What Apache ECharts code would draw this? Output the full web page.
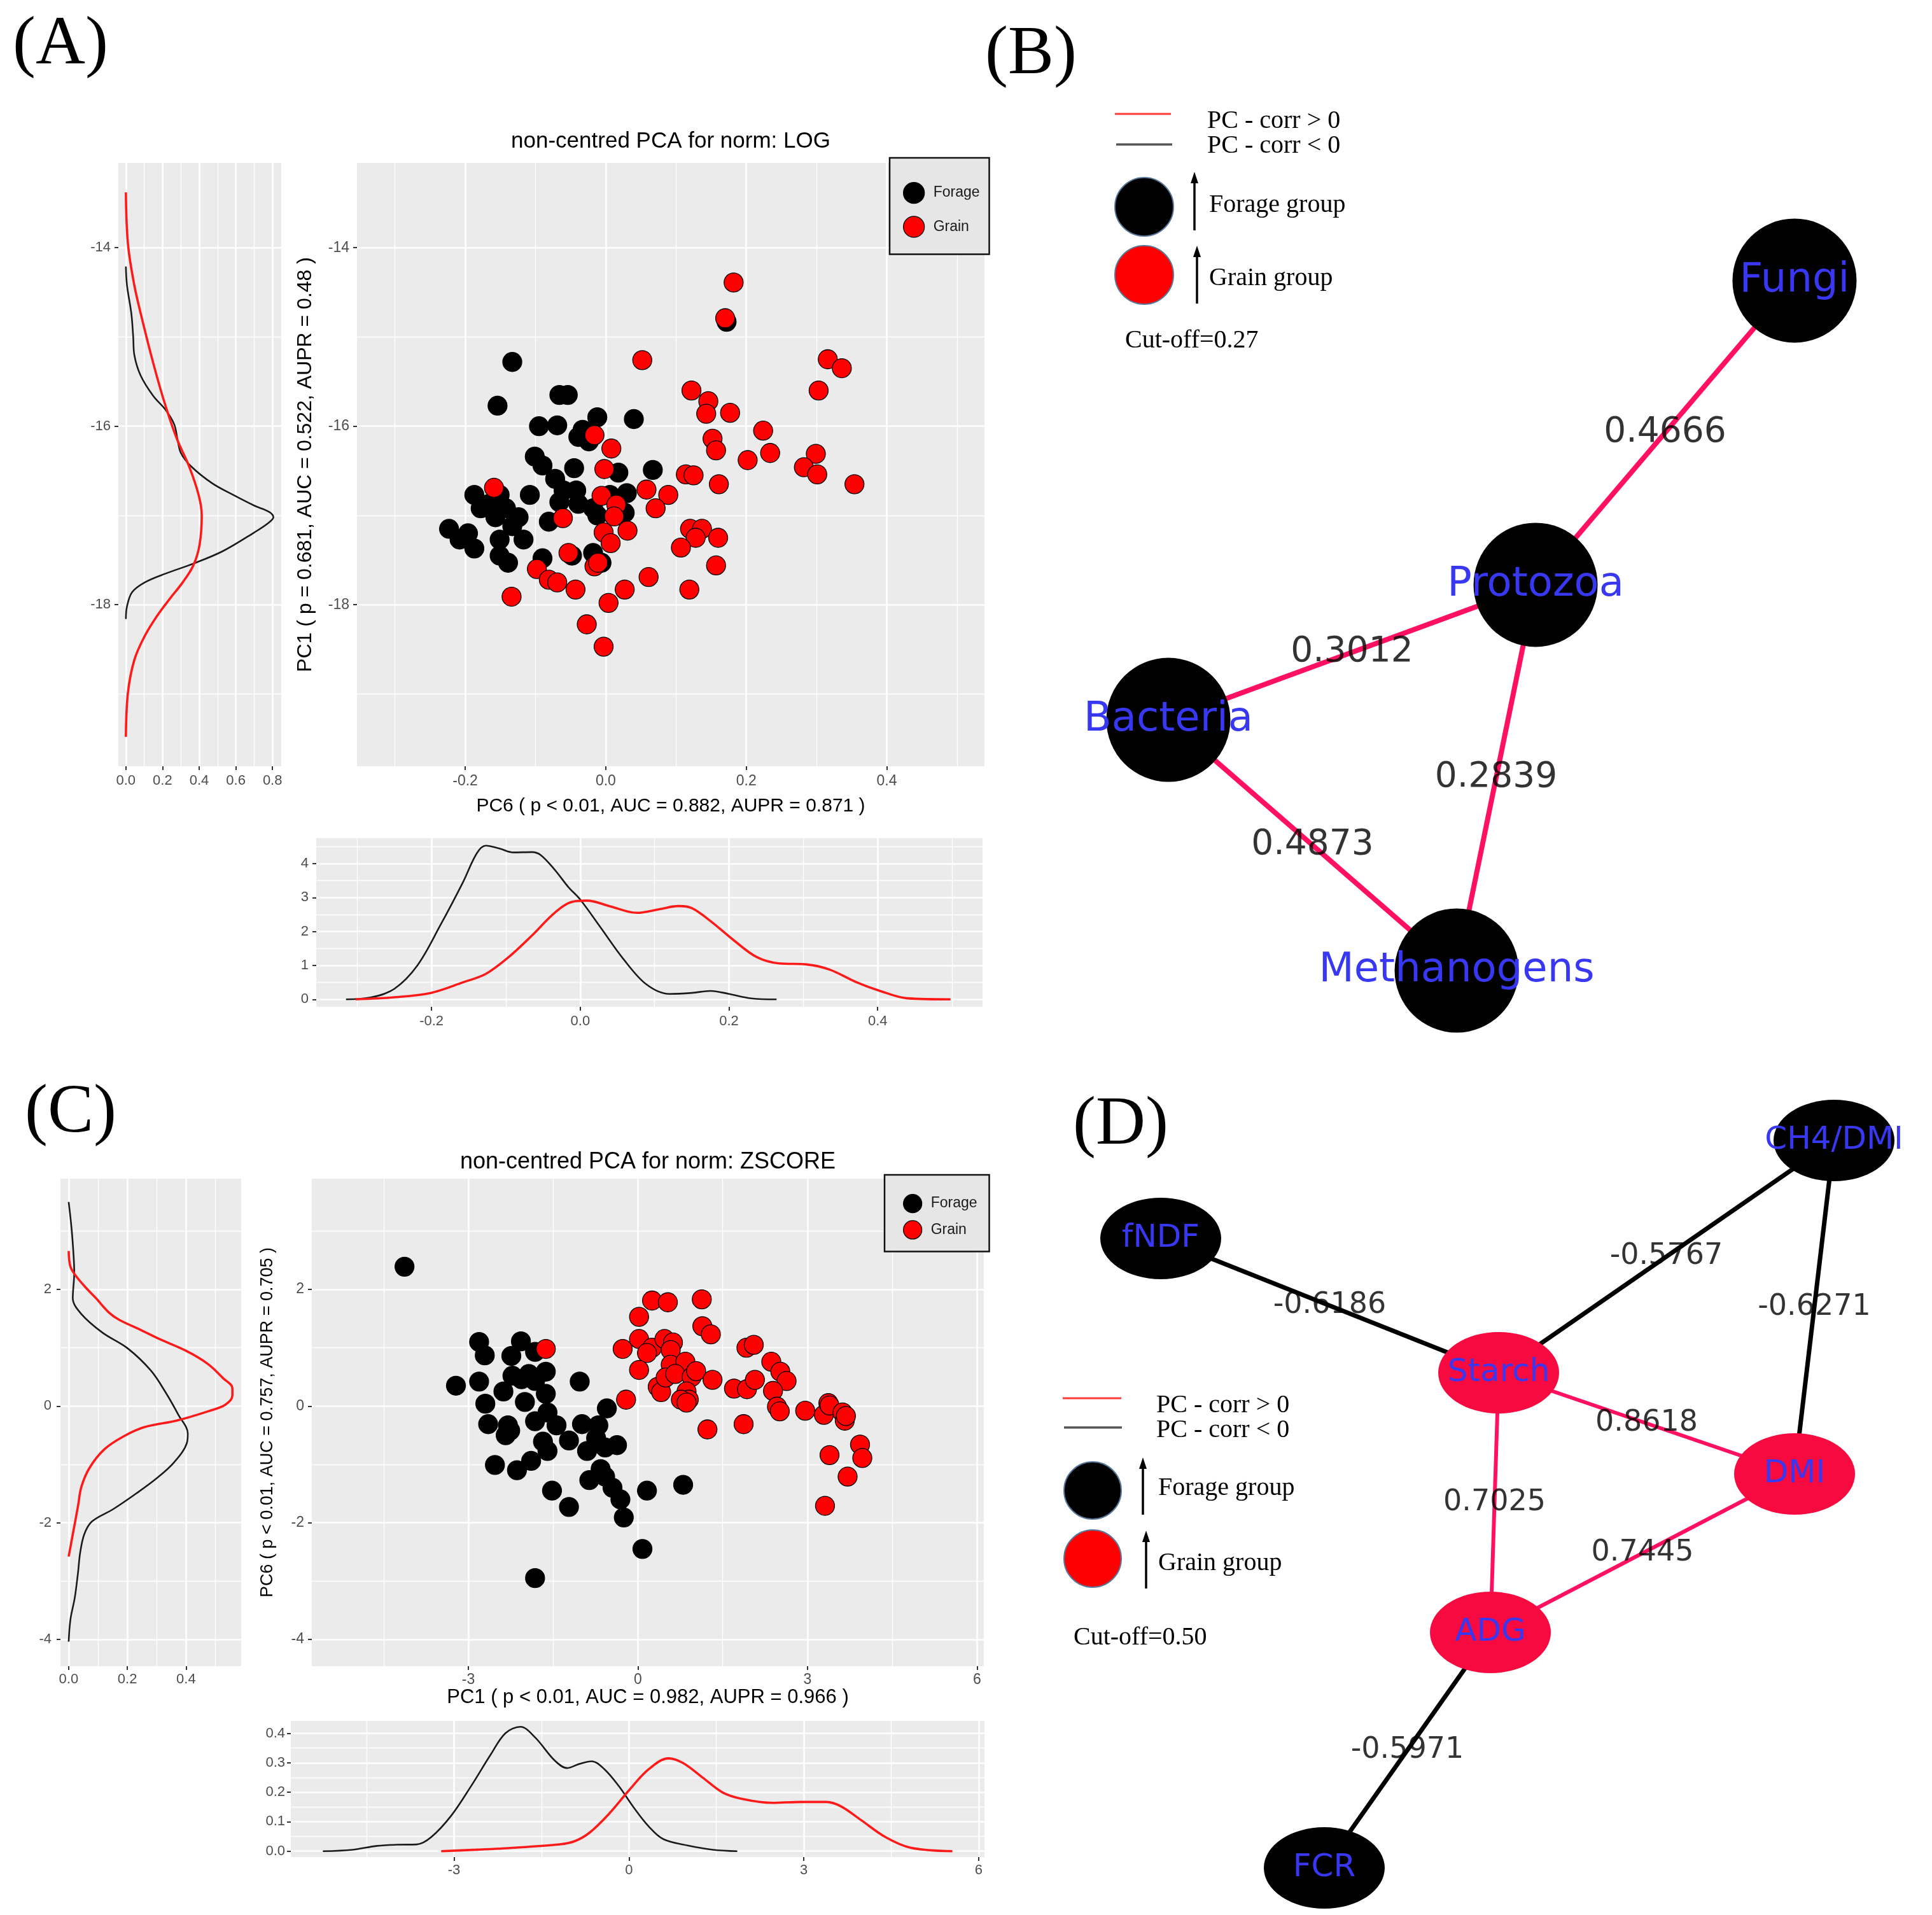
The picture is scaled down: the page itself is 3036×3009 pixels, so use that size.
<!DOCTYPE html>
<html><head><meta charset="utf-8">
<script src="https://cdn.jsdelivr.net/npm/echarts@6/dist/echarts.min.js"></script>
<style>html,body{margin:0;padding:0;background:#fff}#c{width:3036px;height:3009px}</style>
</head><body><div id="c"></div>
<script>
// ---------------- DATA ----------------
const groups = ['Forage', 'Grain'];

// Panel A: non-centred PCA (LOG) — [PC6, PC1]
const logForagePts = [[-0.133,-15.28],[-0.154,-15.77],[-0.066,-15.65],[-0.054,-15.65],[-0.012,-15.90],[0.040,-15.92],[-0.095,-16.00],[-0.069,-15.99],[-0.033,-16.04],[-0.039,-16.12],[-0.024,-16.17],[-0.101,-16.34],[-0.090,-16.44],[-0.072,-16.59],[-0.045,-16.47],[0.018,-16.52],[0.067,-16.49],[-0.187,-16.77],[-0.178,-16.92],[-0.151,-16.77],[-0.142,-16.92],[-0.108,-16.77],[-0.157,-17.02],[-0.124,-17.02],[-0.223,-17.15],[-0.208,-17.27],[-0.196,-17.20],[-0.187,-17.37],[-0.151,-17.27],[-0.117,-17.27],[-0.151,-17.45],[-0.139,-17.53],[-0.081,-17.07],[-0.066,-16.85],[-0.042,-16.72],[-0.039,-16.87],[-0.012,-17.00],[0.030,-16.75],[0.027,-16.97],[-0.090,-17.48],[-0.048,-17.45],[-0.018,-17.42],[-0.006,-17.53],[0.172,-14.83],[-0.018,-16.92],[-0.166,-16.87],[-0.133,-17.12],[-0.060,-16.72],[0.006,-16.77]];
const logGrainPts = [[0.182,-14.39],[0.170,-14.79],[0.052,-15.26],[0.316,-15.25],[0.336,-15.35],[0.303,-15.60],[0.122,-15.60],[0.146,-15.72],[0.143,-15.86],[0.177,-15.85],[0.224,-16.05],[-0.016,-16.10],[0.008,-16.25],[0.152,-16.14],[0.157,-16.27],[0.202,-16.38],[0.234,-16.30],[0.299,-16.31],[0.282,-16.46],[0.301,-16.54],[0.354,-16.65],[-0.002,-16.48],[0.114,-16.54],[0.125,-16.55],[0.161,-16.65],[-0.159,-16.69],[0.058,-16.71],[0.089,-16.77],[-0.006,-16.78],[0.015,-16.88],[0.071,-16.92],[-0.061,-17.03],[0.012,-17.01],[-0.003,-17.19],[0.031,-17.17],[0.007,-17.31],[0.120,-17.15],[0.137,-17.15],[0.128,-17.25],[0.160,-17.25],[0.107,-17.36],[-0.053,-17.42],[-0.098,-17.60],[-0.081,-17.72],[-0.069,-17.75],[-0.016,-17.57],[-0.011,-17.53],[0.157,-17.56],[0.061,-17.69],[-0.043,-17.83],[0.027,-17.83],[0.119,-17.83],[-0.134,-17.91],[0.004,-17.98],[-0.027,-18.22],[-0.003,-18.47]];
// density of PC1 (left marginal) — [density, PC1]
const logPC1DensForage = [[0,-14.21],[0.006,-14.42],[0.03,-14.74],[0.04,-15.0],[0.046,-15.2],[0.08,-15.43],[0.149,-15.66],[0.218,-15.82],[0.264,-15.98],[0.282,-16.15],[0.3,-16.3],[0.356,-16.45],[0.471,-16.64],[0.586,-16.77],[0.701,-16.89],[0.782,-16.96],[0.805,-17.02],[0.78,-17.08],[0.701,-17.19],[0.529,-17.40],[0.368,-17.54],[0.218,-17.65],[0.103,-17.75],[0.034,-17.86],[0.006,-18.02],[0,-18.16]];
const logPC1DensGrain = [[0,-13.38],[0.011,-13.95],[0.046,-14.42],[0.092,-14.83],[0.149,-15.29],[0.207,-15.71],[0.276,-16.13],[0.345,-16.45],[0.397,-16.77],[0.414,-17.0],[0.402,-17.33],[0.368,-17.56],[0.31,-17.75],[0.241,-17.93],[0.172,-18.12],[0.103,-18.35],[0.046,-18.62],[0.011,-18.99],[0,-19.48]];
// density of PC6 (bottom marginal) — [PC6, density]
const logPC6DensForage = [[-0.315,0],[-0.281,0.06],[-0.25,0.31],[-0.219,1.0],[-0.188,2.19],[-0.158,3.44],[-0.139,4.31],[-0.127,4.53],[-0.108,4.44],[-0.09,4.33],[-0.065,4.34],[-0.053,4.25],[-0.034,3.81],[-0.016,3.31],[0,2.94],[0.027,2.13],[0.058,1.19],[0.089,0.44],[0.12,0.16],[0.15,0.19],[0.175,0.25],[0.2,0.16],[0.23,0.03],[0.264,0]];
const logPC6DensGrain = [[-0.302,0],[-0.25,0.06],[-0.201,0.19],[-0.158,0.5],[-0.127,0.75],[-0.096,1.25],[-0.065,1.88],[-0.034,2.56],[-0.01,2.88],[0.009,2.91],[0.039,2.75],[0.076,2.55],[0.107,2.66],[0.132,2.75],[0.15,2.69],[0.175,2.31],[0.206,1.75],[0.237,1.25],[0.267,1.06],[0.304,1.03],[0.335,0.88],[0.372,0.5],[0.403,0.25],[0.44,0.03],[0.498,0]];

// Panel C: non-centred PCA (ZSCORE) — [PC1, PC6]
const zForagePts = [[-4.13,2.39],[-2.81,1.10],[-2.71,0.87],[-2.07,1.11],[-1.82,0.93],[-2.24,0.86],[-3.22,0.35],[-2.81,0.42],[-2.38,0.25],[-2.22,0.52],[-2.06,0.46],[-1.93,0.55],[-1.82,0.43],[-1.63,0.59],[-1.63,0.21],[-2.00,0.07],[-2.70,0.04],[-1.03,0.42],[-0.55,-0.04],[-2.65,-0.31],[-2.30,-0.33],[-2.26,-0.42],[-2.34,-0.50],[-1.82,-0.26],[-1.60,-0.11],[-1.44,-0.33],[-1.68,-0.61],[-1.60,-0.77],[-1.22,-0.59],[-0.99,-0.31],[-0.70,-0.33],[-0.74,-0.55],[-0.58,-0.71],[-0.90,-0.77],[-0.37,-0.67],[-1.89,-0.94],[-2.53,-1.01],[-2.14,-1.10],[-0.66,-1.08],[-0.86,-1.27],[-0.58,-1.21],[-0.45,-1.40],[-0.31,-1.60],[-1.52,-1.45],[-1.22,-1.73],[-0.25,-1.91],[0.16,-1.45],[0.80,-1.35],[0.08,-2.45],[-1.82,-2.95]];
const zGrainPts = [[-1.63,0.98],[-0.27,0.98],[-0.21,0.11],[0.02,1.53],[0.02,1.15],[0.25,1.81],[0.53,1.78],[1.13,1.83],[0.25,1.00],[0.16,0.91],[0.47,1.15],[0.62,1.09],[0.58,0.96],[1.14,1.37],[1.29,1.23],[0.02,0.62],[0.35,0.33],[0.41,0.24],[0.58,0.71],[0.84,0.76],[0.49,0.49],[0.66,0.55],[0.95,0.50],[1.03,0.60],[0.86,0.25],[0.90,0.11],[0.76,0.11],[0.86,0.06],[1.32,0.45],[1.92,1.00],[2.05,1.05],[1.70,0.30],[1.93,0.29],[2.07,0.45],[2.36,0.76],[2.52,0.59],[2.63,0.43],[2.39,0.26],[2.46,-0.01],[2.51,-0.09],[2.96,-0.08],[3.29,-0.15],[3.37,0.05],[3.39,0.01],[3.62,-0.11],[3.66,-0.25],[3.68,-0.17],[1.23,-0.40],[1.87,-0.31],[3.93,-0.66],[3.97,-0.89],[3.39,-0.84],[3.71,-1.21],[3.31,-1.71]];
// density of PC6 (left marginal) — [density, PC6]
const zPC6DensForage = [[0,3.50],[0.010,3.04],[0.017,2.56],[0.019,2.29],[0.014,1.85],[0.043,1.58],[0.115,1.26],[0.201,0.99],[0.28,0.61],[0.331,0.23],[0.374,-0.15],[0.406,-0.47],[0.403,-0.63],[0.36,-0.96],[0.302,-1.23],[0.23,-1.50],[0.151,-1.77],[0.079,-1.98],[0.053,-2.20],[0.039,-2.52],[0.032,-2.85],[0.021,-3.28],[0.006,-3.66],[0,-4.04]];
const zPC6DensGrain = [[0,2.66],[0.006,2.39],[0.025,2.23],[0.057,2.04],[0.093,1.85],[0.136,1.61],[0.172,1.48],[0.244,1.31],[0.309,1.15],[0.403,0.94],[0.475,0.72],[0.526,0.48],[0.558,0.31],[0.558,0.18],[0.533,0.02],[0.475,-0.09],[0.367,-0.25],[0.259,-0.36],[0.187,-0.52],[0.122,-0.74],[0.071,-1.06],[0.043,-1.39],[0.032,-1.71],[0.014,-2.2],[0,-2.58]];
// density of PC1 (bottom marginal) — [PC1, density]
const zPC1DensForage = [[-5.25,0],[-4.74,0.005],[-4.32,0.018],[-3.98,0.022],[-3.64,0.023],[-3.39,0.048],[-3.05,0.12],[-2.71,0.22],[-2.37,0.328],[-2.12,0.40],[-1.86,0.422],[-1.61,0.386],[-1.27,0.307],[-1.06,0.282],[-0.85,0.296],[-0.64,0.305],[-0.42,0.278],[-0.17,0.22],[0.08,0.149],[0.34,0.084],[0.59,0.041],[1.02,0.019],[1.44,0.005],[1.86,0]];
const zPC1DensGrain = [[-3.22,0],[-2.62,0.005],[-1.95,0.012],[-1.19,0.023],[-0.93,0.034],[-0.68,0.062],[-0.34,0.127],[0,0.206],[0.34,0.278],[0.68,0.315],[0.93,0.299],[1.27,0.249],[1.61,0.199],[1.95,0.177],[2.46,0.164],[2.96,0.167],[3.39,0.167],[3.64,0.152],[3.98,0.106],[4.40,0.048],[4.83,0.012],[5.55,0]];

// tick labels
const ticksLogPC6 = [-0.2, 0, 0.2, 0.4];
const ticksLogPC1 = [-18, -16, -14];
const ticksLogPC1Dens = [0, 0.2, 0.4, 0.6, 0.8];
const ticksLogPC6Dens = [0, 1, 2, 3, 4];
const ticksZPC1 = [-3, 0, 3, 6];
const ticksZPC6 = [-4, -2, 0, 2];
const ticksZPC6Dens = [0, 0.2, 0.4];
const ticksZPC1Dens = [0, 0.1, 0.2, 0.3, 0.4];

// Panel B network (layout coordinates, 0-100)
const netBNodes = ['Fungi', 'Protozoa', 'Bacteria', 'Methanogens'];
const netBGroup = ['Forage', 'Forage', 'Forage', 'Forage'];
const netBX = [86.15, 54.85, 10.46, 45.31];
const netBY = [10.07, 44.21, 59.36, 87.5];
const netBLinks = [['Protozoa', 'Fungi', 0.4666], ['Bacteria', 'Protozoa', 0.3012], ['Protozoa', 'Methanogens', 0.2839], ['Bacteria', 'Methanogens', 0.4873]];

// Panel D network (layout coordinates, 0-100)
const netDNodes = ['CH4/DMI', 'fNDF', 'Starch', 'DMI', 'ADG', 'FCR'];
const netDGroup = ['Forage', 'Forage', 'Grain', 'Grain', 'Grain', 'Forage'];
const netDX = [88.97, 13.18, 51.22, 84.53, 50.29, 31.59];
const netDY = [7.03, 18.79, 34.91, 47.06, 66.08, 94.35];
const netDLinks = [['fNDF', 'Starch', -0.6186], ['Starch', 'CH4/DMI', -0.5767], ['CH4/DMI', 'DMI', -0.6271], ['Starch', 'DMI', 0.8618], ['Starch', 'ADG', 0.7025], ['DMI', 'ADG', 0.7445], ['ADG', 'FCR', -0.5971]];

// ---------------- OPTION BUILD ----------------
const SANS = 'Liberation Sans';
const SERIF = 'Liberation Serif';
const NETFONT = 'DejaVu Sans';
const groupColor = {Forage: '#000000', Grain: '#ff0000'};
const fmt1 = v => v.toFixed(1);
const fmt0 = v => String(Math.round(v));

function ggAxis(gridIndex, range, step, ticks, fmt, extra) {
  extra = extra || {};
  const ax = {
    type: 'value', gridIndex: gridIndex, min: range[0], max: range[1],
    splitNumber: 5, minInterval: step, maxInterval: step,
    axisLine: {show: false, onZero: false},
    axisTick: {show: true, length: 6, lineStyle: {color: '#333333', width: 2}, customValues: ticks},
    axisLabel: {show: true, color: '#4d4d4d', fontSize: extra.labelSize || 23, fontFamily: SANS,
      margin: extra.labelMargin || 12, customValues: ticks,
      formatter: v => ticks.some(t => Math.abs(t - v) < step * 1e-6) ? fmt(v) : ''},
    splitLine: {show: true, lineStyle: {color: '#ffffff', width: 2.6}},
    minorTick: {show: false, splitNumber: 2},
    minorSplitLine: {show: true, lineStyle: {color: '#ffffff', width: 1.3}}
  };
  if (extra.name) {
    ax.name = extra.name; ax.nameLocation = 'middle'; ax.nameGap = extra.nameGap;
    ax.nameTextStyle = {fontSize: extra.nameSize, color: '#000', fontFamily: SANS};
  }
  return ax;
}
function hiddenAxis(gridIndex, inverse) {
  return {type: 'value', gridIndex: gridIndex, min: 0, max: 100, show: false, inverse: !!inverse,
    splitLine: {show: false}, axisLine: {show: false, onZero: false}};
}
const ggGrid = (l, t, w, h) => ({left: l, top: t, width: w, height: h, show: true, backgroundColor: '#ebebeb', borderWidth: 0});

function scatterSeries(name, pts, xi) {
  return {type: 'scatter', name: name, xAxisIndex: xi, yAxisIndex: xi, data: pts,
    symbol: 'circle', symbolSize: 30,
    itemStyle: {color: groupColor[name], borderColor: '#000', borderWidth: 1.3, opacity: 1},
    emphasis: {disabled: true}, z: 3};
}
function densSeries(name, pts, xi) {
  const isGrain = name.indexOf('Grain') >= 0;
  return {type: 'line', name: name, xAxisIndex: xi, yAxisIndex: xi, data: pts,
    showSymbol: false, symbol: 'none', smooth: 0.35,
    lineStyle: {color: isGrain ? '#ff1a1a' : '#1a1a1a', width: isGrain ? 3.6 : 2.6},
    emphasis: {disabled: true}, z: 3};
}
function networkSeries(nodes, grp, xs, ys, links, idx, nodeSize, labelSize, edgeWidthPos, edgeWidthNeg) {
  return {
    type: 'graph', coordinateSystem: 'cartesian2d', xAxisIndex: idx, yAxisIndex: idx, layout: 'none',
    symbol: 'circle', symbolSize: nodeSize, roam: false, draggable: false,
    data: nodes.map((n, i) => ({name: n, value: [xs[i], ys[i]],
      itemStyle: {color: grp[i] === 'Forage' ? '#000000' : '#f70a3f'}})),
    links: links.map(l => ({source: l[0], target: l[1], value: l[2],
      lineStyle: {color: l[2] > 0 ? '#ff1060' : '#000000', width: l[2] > 0 ? edgeWidthPos : edgeWidthNeg, opacity: 1}})),
    lineStyle: {opacity: 1, curveness: 0},
    label: {show: true, position: 'inside', color: '#3838f2', fontSize: labelSize, fontFamily: NETFONT},
    emphasis: {disabled: true}, z: 3
  };
}
function edgeLabelSeries(nodes, xs, ys, links, idx, size) {
  const data = links.map(l => {
    const a = nodes.indexOf(l[0]), b = nodes.indexOf(l[1]);
    return [(xs[a] + xs[b]) / 2, (ys[a] + ys[b]) / 2, l[2]];
  });
  return {type: 'scatter', xAxisIndex: idx, yAxisIndex: idx, data: data, symbolSize: 1,
    itemStyle: {color: 'rgba(0,0,0,0)'},
    label: {show: true, position: 'inside', formatter: p => String(p.value[2]),
      color: '#000', fontSize: size, fontFamily: NETFONT},
    emphasis: {disabled: true}, z: 6};
}

const txt = (x, y, text, font, align) => ({type: 'text', x: x, y: y, z: 10,
  style: {text: text, font: font, fill: '#000', align: align || 'left', textAlign: align || 'left',
    verticalAlign: 'middle', textVerticalAlign: 'middle'}});
const ln = (x1, y1, x2, y2, color, w) => ({type: 'line', z: 10, shape: {x1: x1, y1: y1, x2: x2, y2: y2}, style: {stroke: color, lineWidth: w}});
const circ = (cx, cy, r, fill) => ({type: 'circle', z: 10, shape: {cx: cx, cy: cy, r: r}, style: {fill: fill, stroke: '#58779a', lineWidth: 2}});
const arrow = (x, y1, y2) => [ln(x, y1 + 14, x, y2, '#000', 3.5),
  {type: 'polygon', z: 10, shape: {points: [[x, y1], [x - 6, y1 + 18], [x + 6, y1 + 18]]}, style: {fill: '#000'}}];
const legFont = '40px "' + SERIF + '"';

const graphicEls = [
  txt(95, 72, '(A)', '108px "' + SERIF + '"', 'center'),
  txt(1620, 87, '(B)', '108px "' + SERIF + '"', 'center'),
  txt(111, 1750, '(C)', '108px "' + SERIF + '"', 'center'),
  txt(1761, 1769, '(D)', '108px "' + SERIF + '"', 'center'),
  // legend B
  ln(1752, 179, 1840, 179, '#ff3b3b', 3), ln(1754, 227, 1842, 227, '#555555', 3.5),
  txt(1897, 190, 'PC - corr > 0', legFont), txt(1897, 229, 'PC - corr < 0', legFont),
  circ(1798, 325, 46, '#000000'), circ(1798, 432, 46, '#ff0000'),
  ...arrow(1877, 270, 362), ...arrow(1881, 386, 477),
  txt(1900, 322, 'Forage group', legFont), txt(1900, 437, 'Grain group', legFont),
  txt(1768, 535, 'Cut-off=0.27', legFont),
  // legend D
  ln(1670, 2197, 1762, 2197, '#ff3b3b', 3), ln(1672, 2243, 1763, 2243, '#555555', 3.5),
  txt(1817, 2208, 'PC - corr > 0', legFont), txt(1817, 2247, 'PC - corr < 0', legFont),
  circ(1717, 2342, 45, '#000000'), circ(1717, 2449, 45, '#ff0000'),
  ...arrow(1796, 2290, 2380), ...arrow(1801, 2405, 2496),
  txt(1820, 2338, 'Forage group', legFont), txt(1820, 2456, 'Grain group', legFont),
  txt(1687, 2573, 'Cut-off=0.50', legFont)
];

const legendBase = {orient: 'vertical', icon: 'circle', selectedMode: false, data: groups,
  backgroundColor: '#e6e6e6', borderColor: '#111', borderWidth: 2.5,
  itemStyle: {borderColor: '#000', borderWidth: 1.3},
  textStyle: {fontSize: 23, fontFamily: SANS, color: '#1a1a1a', padding: [0, 0, 0, 9]}};

const option = {
  animation: false,
  backgroundColor: '#ffffff',
  textStyle: {fontFamily: SANS},
  title: [
    {text: 'non-centred PCA for norm: LOG', left: 1054, top: 205, textAlign: 'center', padding: 0,
      textStyle: {fontSize: 35, fontWeight: 'normal', color: '#000', fontFamily: SANS}},
    {text: 'non-centred PCA for norm: ZSCORE', left: 1018, top: 1808, textAlign: 'center', padding: 0,
      textStyle: {fontSize: 36, fontWeight: 'normal', color: '#000', fontFamily: SANS}}
  ],
  legend: [
    Object.assign({}, legendBase, {left: 1398, top: 248, padding: [38, 15, 26, 21], itemGap: 19, itemWidth: 33, itemHeight: 33}),
    Object.assign({}, legendBase, {left: 1390, top: 1846, padding: [30, 19, 19, 29], itemGap: 11, itemWidth: 29, itemHeight: 29})
  ],
  grid: [
    ggGrid(561, 256, 986, 948),
    ggGrid(186, 256, 256, 948),
    ggGrid(497, 1317, 1047, 265),
    ggGrid(490, 1852, 1056, 766),
    ggGrid(95, 1852, 284, 766),
    ggGrid(457, 2704, 1090, 214),
    {left: 1700, top: 300, width: 1300, height: 1400, show: false},
    {left: 1640, top: 1700, width: 1396, height: 1309, show: false}
  ],
  xAxis: [
    ggAxis(0, [-0.354, 0.539], 0.2, ticksLogPC6, fmt1, {name: 'PC6 ( p < 0.01, AUC = 0.882, AUPR = 0.871 )', nameGap: 48, nameSize: 30}),
    ggAxis(1, [-0.041, 0.848], 0.2, ticksLogPC1Dens, fmt1, {labelSize: 22}),
    ggAxis(2, [-0.355, 0.541], 0.2, ticksLogPC6, fmt1, {labelSize: 22}),
    ggAxis(3, [-5.77, 6.12], 3, ticksZPC1, fmt0, {name: 'PC1 ( p < 0.01, AUC = 0.982, AUPR = 0.966 )', nameGap: 30, nameSize: 31, labelMargin: 10}),
    ggAxis(4, [-0.028, 0.588], 0.2, ticksZPC6Dens, fmt1, {labelSize: 22, labelMargin: 10}),
    ggAxis(5, [-5.80, 6.10], 3, ticksZPC1, fmt0, {labelSize: 22, labelMargin: 10}),
    hiddenAxis(6, false),
    hiddenAxis(7, false)
  ],
  yAxis: [
    ggAxis(0, [-19.81, -13.05], 2, ticksLogPC1, fmt0, {name: 'PC1 ( p = 0.681, AUC = 0.522, AUPR = 0.48 )', nameGap: 65, nameSize: 32}),
    ggAxis(1, [-19.81, -13.05], 2, ticksLogPC1, fmt0, {labelSize: 22}),
    ggAxis(2, [-0.22, 4.75], 1, ticksLogPC6Dens, fmt0, {labelSize: 22}),
    ggAxis(3, [-4.46, 3.90], 2, ticksZPC6, fmt0, {name: 'PC6 ( p < 0.01, AUC = 0.757, AUPR = 0.705 )', nameGap: 56, nameSize: 27}),
    ggAxis(4, [-4.46, 3.90], 2, ticksZPC6, fmt0, {labelSize: 22, labelMargin: 14}),
    ggAxis(5, [-0.020, 0.442], 0.1, ticksZPC1Dens, fmt1, {labelSize: 22, labelMargin: 9}),
    hiddenAxis(6, true),
    hiddenAxis(7, true)
  ],
  series: [
    scatterSeries('Forage', logForagePts, 0),
    scatterSeries('Grain', logGrainPts, 0),
    densSeries('Forage PC1 density', logPC1DensForage, 1),
    densSeries('Grain PC1 density', logPC1DensGrain, 1),
    densSeries('Forage PC6 density', logPC6DensForage, 2),
    densSeries('Grain PC6 density', logPC6DensGrain, 2),
    scatterSeries('Forage', zForagePts, 3),
    scatterSeries('Grain', zGrainPts, 3),
    densSeries('Forage zPC6 density', zPC6DensForage, 4),
    densSeries('Grain zPC6 density', zPC6DensGrain, 4),
    densSeries('Forage zPC1 density', zPC1DensForage, 5),
    densSeries('Grain zPC1 density', zPC1DensGrain, 5),
    networkSeries(netBNodes, netBGroup, netBX, netBY, netBLinks, 6, 195, 64, 8, 8),
    edgeLabelSeries(netBNodes, netBX, netBY, netBLinks, 6, 55),
    networkSeries(netDNodes, netDGroup, netDX, netDY, netDLinks, 7, [190, 128], 50, 6, 7),
    edgeLabelSeries(netDNodes, netDX, netDY, netDLinks, 7, 46)
  ],
  graphic: graphicEls
};

const chart = echarts.init(document.getElementById('c'), null, {renderer: 'canvas'});
chart.setOption(option);
</script></body></html>
